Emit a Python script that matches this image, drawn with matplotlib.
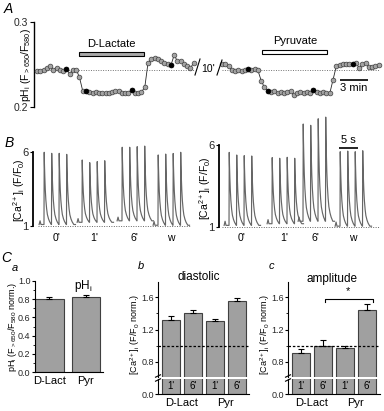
import numpy as np
import matplotlib
matplotlib.use("Agg")
import matplotlib.pyplot as plt
import matplotlib.transforms as mtrans
from matplotlib.patches import Rectangle
from matplotlib.lines import Line2D

plt.rcParams['font.family'] = ['Liberation Sans', 'DejaVu Sans']
plt.rcParams['mathtext.default'] = 'regular'
plt.rcParams['font.size'] = 7

# ---- panel A: pHi ratio, one image every 0.35 min
dt_A = 0.35
ph_dlact = [0.242, 0.242, 0.243, 0.246, 0.248, 0.244, 0.246, 0.244, 0.242, 0.245,
            0.239, 0.244, 0.244, 0.235, 0.219, 0.219, 0.218, 0.217, 0.218, 0.217,
            0.217, 0.216, 0.217, 0.218, 0.219, 0.219, 0.217, 0.216, 0.217, 0.220,
            0.217, 0.216, 0.218, 0.223, 0.252, 0.256, 0.258, 0.256, 0.254, 0.252,
            0.250, 0.249, 0.261, 0.254, 0.254, 0.251, 0.248, 0.246, 0.252]
ph_pyr = [0.251, 0.250, 0.248, 0.243, 0.242, 0.243, 0.242, 0.244, 0.245, 0.244,
          0.245, 0.243, 0.231, 0.223, 0.219, 0.218, 0.219, 0.217, 0.218, 0.216,
          0.218, 0.219, 0.214, 0.217, 0.218, 0.217, 0.218, 0.217, 0.220, 0.218,
          0.217, 0.218, 0.216, 0.216, 0.232, 0.248, 0.249, 0.250, 0.250, 0.251,
          0.250, 0.252, 0.246, 0.250, 0.252, 0.247, 0.247, 0.248, 0.249]
black_dlact = [9, 15, 29, 41]
black_pyr = [8, 14, 28, 40]
ph_base = 0.243
dlact_on, dlact_dur = 4.5, 7.0
pyr_on, pyr_dur = 4.3, 7.0

# ---- panel B: Ca transients (F/F0), paced every 2 s
pace_T = 2.0
group_lbl = ["0'", "1'", "6'", "w"]
peaks_dlact = [[5.98, 5.91, 5.91, 5.84], [5.46, 5.28, 5.35, 5.41],
               [6.32, 6.32, 6.36, 6.40], [5.80, 5.86, 5.90, 5.98]]
diast_dlact = [1.10, 1.25, 1.35, 1.05]
peaks_pyr = [[5.55, 5.39, 5.35, 5.33], [5.23, 5.19, 5.25, 5.19],
             [7.28, 7.20, 7.60, 7.70], [5.59, 5.63, 5.59, 5.65]]
diast_pyr = [1.10, 1.20, 1.35, 1.05]
tmpl_t = [0.0, 0.06, 0.12, 0.22, 0.35, 0.5, 0.7, 0.9, 1.2, 1.5, 1.95]
tmpl_f = [0.0, 1.0, 0.84, 0.66, 0.48, 0.34, 0.22, 0.14, 0.08, 0.04, 0.0]

# ---- panel C: normalized means
cond = ['D-Lact', 'Pyr']
ph_norm = [0.80, 0.82]
ph_err = [0.025, 0.025]
time_lbl = ["1'", "6'", "1'", "6'"]
dia_norm = [1.317, 1.408, 1.304, 1.546]
dia_err = [0.05, 0.035, 0.025, 0.04]
amp_norm = [0.913, 0.996, 0.97, 1.44]
amp_err = [0.045, 0.08, 0.03, 0.07]

W, H = 384, 411
fig = plt.figure(figsize=(W / 100, H / 100), dpi=100)


def rect(l, t, r, b):
    return [l / W, 1 - b / H, (r - l) / W, (b - t) / H]


def ftext(x, y, s, **kw):
    kw.setdefault('ha', 'center')
    kw.setdefault('va', 'center')
    fig.text(x / W, 1 - y / H, s, **kw)


def fline(xs, ys, **kw):
    fig.add_artist(Line2D([x / W for x in xs], [1 - y / H for y in ys], **kw))


def only_left(ax):
    for sp in ['top', 'right', 'bottom']:
        ax.spines[sp].set_visible(False)
    ax.patch.set_visible(False)
    ax.tick_params(axis='x', bottom=False, labelbottom=False)
    ax.tick_params(axis='y', labelsize=7, labelcolor='0.15', length=3, width=0.8, pad=1.5)


# ================= A
axA = fig.add_axes(rect(34, 22, 384, 107))
only_left(axA)
ppm = 9.33
axA.set_xlim(-3 / ppm, (384 - 37) / ppm)
axA.set_ylim(0.2, 0.3)
axA.set_yticks([0.2, 0.3])
axA.set_yticklabels(['0.2', '0.3'], fontsize=7.5)
axA.spines['left'].set_linewidth(1.0)


def ya(ypx):
    return 0.3 - (ypx - 22) / 850


gap_A = (222 - 37) / ppm
tL = np.arange(len(ph_dlact)) * dt_A
tR = np.arange(len(ph_pyr)) * dt_A + gap_A
for t, ph, blk in ((tL, ph_dlact, black_dlact), (tR, ph_pyr, black_pyr)):
    ph = np.array(ph)
    axA.hlines(ph_base, t[0], t[-1], colors='0.45', linestyles=(0, (1, 1.5)), lw=0.7, zorder=1)
    axA.plot(t, ph, '-', color='0.15', lw=0.6, zorder=2)
    axA.plot(t, ph, 'o', ms=3.4, mfc='#a3a3a3', mec='0.25', mew=0.5, zorder=3)
    axA.plot(t[blk], ph[blk], 'o', ms=3.4, mfc='k', mec='k', mew=0.5, zorder=4)

axA.add_patch(Rectangle((dlact_on, ya(56)), dlact_dur, ya(52) - ya(56),
                        fc='#a9a9a9', ec='k', lw=0.8, clip_on=False))
axA.text(dlact_on + dlact_dur / 2, ya(44), 'D-Lactate', ha='center', va='center', fontsize=8)
axA.add_patch(Rectangle((gap_A + pyr_on, ya(54)), pyr_dur, ya(50) - ya(54),
                        fc='white', ec='k', lw=0.8, clip_on=False))
axA.text(gap_A + pyr_on + pyr_dur / 2, ya(41), 'Pyruvate', ha='center', va='center', fontsize=8)
sb0 = (340 - 37) / ppm
axA.plot([sb0, sb0 + 3], [ya(80), ya(80)], color='k', lw=1.2, solid_capstyle='butt')
axA.text(sb0 + 1.5, ya(88), '3 min', ha='center', va='center', fontsize=8)
fline([195, 200], [75, 59], color='k', lw=0.8)
fline([217, 222], [75, 60], color='k', lw=0.8)
ftext(208, 69, "10'", fontsize=7.5)
ftext(26, 65, 'pH$_i$ (F$_{>650}$/F$_{580}$)', rotation=90, fontsize=7.5)
ftext(8, 9, 'A', fontsize=10, style='italic')


# ================= B
def ca_trace(t0, peaks, diast):
    t = [t0 - 1.3, t0 - 1.05, t0 - 0.8]
    y = [diast, diast + 0.25, diast]
    for k, pk in enumerate(peaks):
        ts = t0 + k * pace_T
        for a, f in zip(tmpl_t, tmpl_f):
            t.append(ts + a)
            y.append(diast + (pk - diast) * f)
    t.append(t0 + (len(peaks) - 1) * pace_T + 2.4)
    y.append(diast)
    return t, y


pps = 3.75
panelsB = [
    (rect(33, 138, 192, 228), 14.8, 2, 14, [2.93, 13.07, 23.73, 33.33], peaks_dlact, diast_dlact,
     (19, 190), (38, 190)),
    (rect(219, 115, 382, 229), 16.4, 2, 30, [2.67, 14.13, 22.4, 32.27], peaks_pyr, diast_pyr,
     (205, 188), (222, 380)),
]
axesB = []
for r, ppu, below, above, starts, peaks, diast, lab, dotx in panelsB:
    ax = fig.add_axes(r)
    axesB.append(ax)
    only_left(ax)
    wpx = r[2] * W
    ax.set_xlim(0, wpx / pps)
    ax.set_ylim(1 - below / ppu, 6 + above / ppu)
    ax.spines['left'].set_bounds(1, 6)
    ax.spines['left'].set_linewidth(1.3)
    ax.set_yticks([1, 6])
    ax.set_yticklabels(['1', '6'], fontsize=8)
    ax.tick_params(axis='y', length=2)
    x0 = r[0] * W
    ax.hlines(1, (dotx[0] - x0) / pps, (dotx[1] - x0) / pps, colors='0.4',
              linestyles=(0, (1, 1.5)), lw=0.7)
    tr = mtrans.blended_transform_factory(ax.transData, fig.transFigure)
    for g, t0 in enumerate(starts):
        t, y = ca_trace(t0, peaks[g], diast[g])
        ax.plot(t, y, color='0.4', lw=0.85, clip_on=False)
        ax.text(t0 + 3.3, 1 - 238 / H, group_lbl[g], transform=tr, ha='center', va='center',
                fontsize=7.5)
    ftext(lab[0], lab[1], '[Ca$^{2+}$]$_i$ (F/F$_0$)', rotation=90, fontsize=7.5)

axb = axesB[1]
x0 = 219
axb.plot([(339 - x0) / pps, (339 - x0) / pps + 5], [1 + (227 - 148) / 16.4] * 2, color='k', lw=1.2,
         solid_capstyle='butt')
axb.text((339 - x0) / pps + 2.5, 1 + (227 - 140) / 16.4, '5 s', ha='center', va='center', fontsize=8)
ftext(9, 143, 'B', fontsize=10, style='italic')

# ================= C
bar_fc = '#a0a0a0'
bar_ec = '0.25'
tick_kw = dict(labelsize=6.5, labelcolor='0.15', length=2, width=0.8, pad=0.8)

axCa = fig.add_axes(rect(34.5, 281, 103, 372))
for sp in ['top', 'right']:
    axCa.spines[sp].set_visible(False)
axCa.patch.set_visible(False)
xa = np.arange(len(cond))
axCa.bar(xa, ph_norm, width=0.78, color=bar_fc, edgecolor=bar_ec, lw=0.8)
axCa.errorbar(xa, ph_norm, yerr=[np.zeros(len(ph_err)), ph_err], fmt='none', ecolor='k',
              elinewidth=0.8, capsize=2, capthick=0.8)
axCa.set_xlim(-0.41, 1.466)
axCa.set_ylim(0, 1.0)
axCa.set_yticks(np.arange(0, 1.01, 0.2))
axCa.set_yticklabels(['0.0', '0.2', '0.4', '0.6', '0.8', '1.0'])
axCa.set_yticks(np.arange(0.1, 1.0, 0.2), minor=True)
axCa.set_xticks(xa)
axCa.set_xticklabels(cond, fontsize=8)
axCa.tick_params(axis='x', length=0, pad=3)
axCa.tick_params(axis='y', which='major', **tick_kw)
axCa.tick_params(axis='y', which='minor', length=1.2, width=0.6)
ftext(83, 286, 'pH$_i$', fontsize=8.5)
ftext(13, 327, 'pH$_i$ (F$_{>650}$/F$_{580}$ norm.)', rotation=90, fontsize=6.5)
ftext(6, 258, 'C', fontsize=10, style='italic')
ftext(15, 268, 'a', fontsize=8, style='italic')


def ca_bars(l, r, vals, errs, title, tpos, letter_pos, ylab_x):
    xb = np.arange(len(vals))
    c0 = l + 13
    xl = ((l - c0) / 22, (r - c0) / 22)
    top = fig.add_axes(rect(l, 282, r, 377))
    bot = fig.add_axes(rect(l, 379, r, 394))
    for ax in (top, bot):
        ax.patch.set_visible(False)
        ax.spines['right'].set_visible(False)
        ax.spines['top'].set_visible(False)
        ax.bar(xb, vals, width=0.84, color=bar_fc, edgecolor=bar_ec, lw=0.8)
        ax.set_xlim(*xl)
        ax.tick_params(axis='y', which='major', **tick_kw)
        ax.tick_params(axis='y', which='minor', length=1.2, width=0.6)
    top.spines['bottom'].set_visible(False)
    top.tick_params(axis='x', bottom=False, labelbottom=False)
    top.set_ylim(0.615, 1.785)
    top.set_yticks([0.8, 1.2, 1.6])
    top.set_yticklabels(['0.8', '1.2', '1.6'])
    top.set_yticks([1.0, 1.4], minor=True)
    top.errorbar(xb, vals, yerr=[np.zeros(len(errs)), errs], fmt='none', ecolor='k',
                 elinewidth=0.8, capsize=2, capthick=0.8)
    top.axhline(1.0, color='k', lw=0.9, ls=(0, (2, 1.5)), zorder=3)
    bot.set_ylim(0, 0.185)
    bot.set_yticks([0.0])
    bot.set_yticklabels(['0.0'])
    bot.set_xticks([0.5, 2.5])
    bot.set_xticklabels(cond, fontsize=8)
    bot.tick_params(axis='x', length=0, pad=3)
    for i, s in enumerate(time_lbl):
        bot.text(i, 0.095, s, ha='center', va='center', fontsize=7)
    for yb in (376, 380):
        fline([l - 2.5, l + 2.5], [yb + 1.2, yb - 1.2], color='k', lw=0.8)
    ftext(tpos[0], tpos[1], title, fontsize=8.5)
    ftext(letter_pos[0], letter_pos[1], letter_pos[2], fontsize=8, style='italic')
    ftext(ylab_x, 334, '[Ca$^{2+}$]$_i$ (F/F$_0$ norm.)', rotation=90, fontsize=6.5)
    return top


ca_bars(158, 249, dia_norm, dia_err, 'diastolic', (199, 277), (141, 266, 'b'), 135)
axCc = ca_bars(288, 380, amp_norm, amp_err, 'amplitude', (332, 279), (271, 266, 'c'), 265)
axCc.plot([1.1, 1.1, 3.25, 3.25], [1.535, 1.575, 1.575, 1.535], color='k', lw=0.8)
axCc.text(2.15, 1.61, '*', ha='center', va='bottom', fontsize=8)

fig.savefig('out.png', dpi=100, facecolor='white')
